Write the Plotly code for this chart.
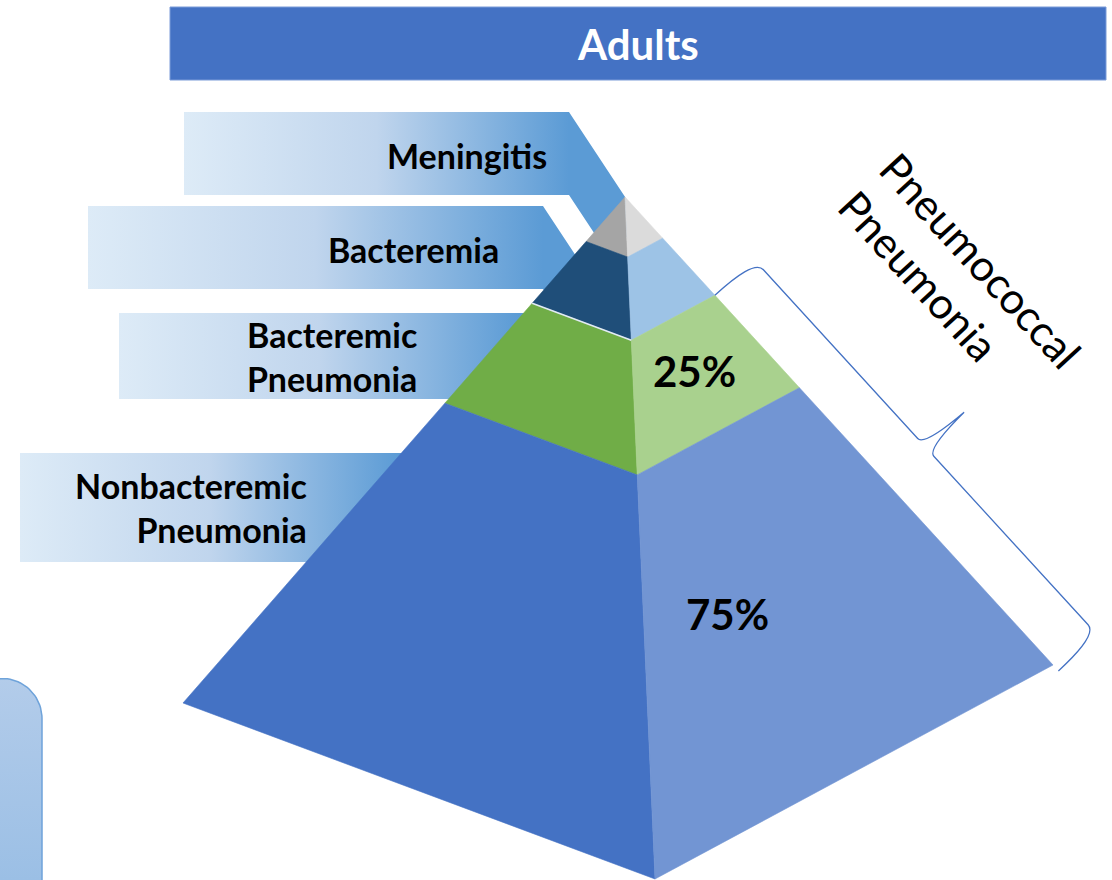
import math
import numpy as np
import plotly.graph_objects as go

# ---------------- data ----------------
categories = ["Meningitis", "Bacteremia", "Bacteremic<br>Pneumonia", "Nonbacteremic<br>Pneumonia"]
# depth of the tier boundaries below the apex (apex = 0, base = 1) for the two upper tiers
upper_tier_depth = [0.088, 0.21]
# split of pneumococcal pneumonia: bacteremic vs nonbacteremic (%)
pneumonia_share = [25, 75]
share_labels = ["25%", "75%"]
group_label = "Pneumococcal<br>Pneumonia"
title_text = "Adults"

# ---------------- styling ----------------
FONT = "Lato, Carlito, Calibri, 'Open Sans', sans-serif"
left_colors = ["#A5A5A5", "#1F4E79", "#70AD47", "#4472C4"]
right_colors = ["#DBDBDB", "#9DC3E6", "#A9D18E", "#7295D3"]
BANNER_SCALE = [[0.0, "#DDEBF7"], [0.5, "#C0D5ED"], [1.0, "#5B9BD5"]]

W, H = 1112, 880

# pyramid corners (page pixels): apex, left base, front base, right base
APEX = (625.0, 197.0)
LEFT = (183.0, 703.0)
FRONT = (655.0, 879.0)
RIGHT = (1053.0, 665.0)

# tier boundaries: the pneumonia section is split by the bacteremic share
pn_start = upper_tier_depth[-1]
depths = [0.0] + upper_tier_depth + [pn_start + (1 - pn_start) * pneumonia_share[0] / 100.0, 1.0]


def lerp(p, q, t):
    return (p[0] + t * (q[0] - p[0]), p[1] + t * (q[1] - p[1]))


fig = go.Figure()


def poly(pts, fill=None, line_color=None, line_width=0, gradient=None):
    xs = [p[0] for p in pts] + [pts[0][0]]
    ys = [p[1] for p in pts] + [pts[0][1]]
    kw = dict(x=xs, y=ys, mode="lines", fill="toself", hoverinfo="skip", showlegend=False,
              line=dict(color=line_color or fill or "rgba(0,0,0,0)", width=line_width))
    if gradient is not None:
        kw["fillgradient"] = gradient
    else:
        kw["fillcolor"] = fill
    fig.add_trace(go.Scatter(**kw))


# ---------------- label banners (drawn behind the pyramid) ----------------
# (left, right, top, bottom, gradient end, connector slant)
banners = [
    (184, 569, 112, 195, 569, True),
    (88, 543, 206, 289, 543, True),
    (119, 560, 313, 399, 520, False),
    (20, 480, 453, 562, 400, False),
]
SLANT = 0.66
for x0, x1, y0, y1, gstop, slant in banners:
    if slant:
        yc = y1 + 42
        pts = [(x0, y0), (x1, y0), (x1 + SLANT * (yc - y0), yc),
               (x1 + SLANT * (yc - y1), yc), (x1, y1), (x0, y1)]
    else:
        pts = [(x0, y0), (x1, y0), (x1, y1), (x0, y1)]
    poly(pts, gradient=dict(type="horizontal", colorscale=BANNER_SCALE, start=x0, stop=gstop))

# ---------------- partial rounded box, lower left ----------------
th = np.linspace(-math.pi / 2, 0, 24)
box = [(-6, 678.5), (2, 678.5)] + [(2 + 40 * math.cos(a), 718.5 + 40 * math.sin(a)) for a in th] + [(42, 886), (-6, 886)]
poly(box, line_color="#6FA3DA", line_width=1.5,
     gradient=dict(type="vertical", colorscale=[[0, "#B3CCEA"], [1, "#9BBFE5"]], start=678, stop=880))

# ---------------- pyramid tiers ----------------
for i in range(4):
    t0, t1 = depths[i], depths[i + 1]
    lf = [lerp(APEX, LEFT, t0), lerp(APEX, FRONT, t0), lerp(APEX, FRONT, t1), lerp(APEX, LEFT, t1)]
    rf = [lerp(APEX, FRONT, t0), lerp(APEX, RIGHT, t0), lerp(APEX, RIGHT, t1), lerp(APEX, FRONT, t1)]
    poly(lf, fill=left_colors[i], line_width=0.6)
    poly(rf, fill=right_colors[i], line_width=0.6)

# light seam between the bacteremia and bacteremic-pneumonia tiers on the left face
seam = [lerp(APEX, LEFT, depths[2]), lerp(APEX, FRONT, depths[2])]
fig.add_trace(go.Scatter(x=[p[0] for p in seam], y=[p[1] for p in seam], mode="lines",
                         line=dict(color="#E2EAF6", width=1.6), hoverinfo="skip", showlegend=False))

# ---------------- brace along the pneumonia section ----------------
ex, ey = RIGHT[0] - APEX[0], RIGHT[1] - APEX[1]
elen = math.hypot(ex, ey)
ud = (ex / elen, ey / elen)
nd = (ud[1], -ud[0])  # outward normal
S = lerp(APEX, RIGHT, depths[2])
blen = math.hypot(RIGHT[0] - S[0], RIGHT[1] - S[1]) + 8
half = blen / 2
ARM = 53
TIP = 105


def P(u, n):
    return f"{S[0] + u * ud[0] + n * nd[0]:.1f},{S[1] + u * ud[1] + n * nd[1]:.1f}"


brace = (f"M {P(0, 0)} C {P(0, 30)} {P(3, ARM)} {P(14, ARM)} "
         f"L {P(half - 12, ARM)} Q {P(half - 2, ARM)} {P(half, TIP)} "
         f"Q {P(half + 2, ARM)} {P(half + 12, ARM)} "
         f"L {P(blen - 14, ARM)} C {P(blen - 3, ARM)} {P(blen, 30)} {P(blen, 0)}")
fig.add_shape(type="path", path=brace, xref="x", yref="y",
              line=dict(color="#4472C4", width=1.3))

angle = math.degrees(math.atan2(ud[1], ud[0]))
tc = (S[0] + 154 * ud[0] + 192 * nd[0], S[1] + 154 * ud[1] + 192 * nd[1])
fig.add_annotation(x=tc[0], y=tc[1], text=group_label, textangle=angle, showarrow=False,
                   xanchor="center", yanchor="middle", align="left",
                   font=dict(family=FONT, size=43, color="#000000"))

# ---------------- title bar ----------------
fig.add_shape(type="rect", x0=170, x1=1106, y0=7, y1=80, xref="x", yref="y",
              fillcolor="#4472C4", line=dict(color="#7A9BD8", width=1), layer="below")
fig.add_annotation(x=638, y=44, text=f"<b>{title_text}</b>", showarrow=False,
                   font=dict(family=FONT, size=42, color="#FFFFFF"))

# ---------------- banner labels ----------------
label_pos = [(549, 155), (501, 249), (419, 356), (309, 507)]
for txt, (lx, ly) in zip(categories, label_pos):
    fig.add_annotation(x=lx, y=ly, text=f"<b>{txt}</b>", showarrow=False, xanchor="right",
                       yanchor="middle", align="right",
                       font=dict(family=FONT, size=34, color="#000000"))

# ---------------- share labels ----------------
share_pos = [(694, 371), (727, 614)]
for txt, (sx, sy) in zip(share_labels, share_pos):
    fig.add_annotation(x=sx, y=sy, text=f"<b>{txt}</b>", showarrow=False,
                       font=dict(family=FONT, size=42, color="#000000"))

fig.update_layout(
    width=W, height=H, margin=dict(l=0, r=0, t=0, b=0),
    paper_bgcolor="#FFFFFF", plot_bgcolor="#FFFFFF",
    xaxis=dict(range=[0, W], visible=False, fixedrange=True),
    yaxis=dict(range=[H, 0], visible=False, fixedrange=True),
    showlegend=False,
)

fig.write_html("out.html", config={"displayModeBar": False, "staticPlot": True})
